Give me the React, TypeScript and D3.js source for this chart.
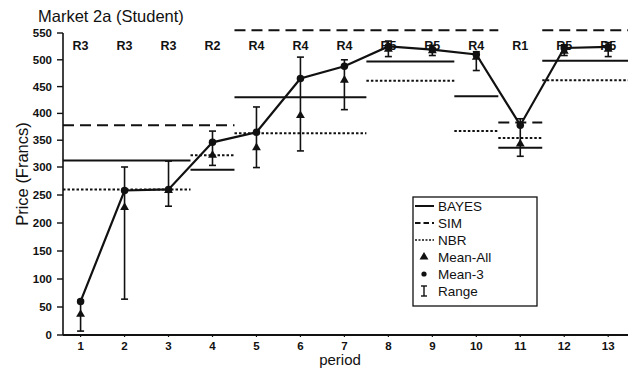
import React from 'react';
import * as d3 from 'd3';

// values
const periods = [1, 2, 3, 4, 5, 6, 7, 8, 9, 10, 11, 12, 13];
const regimes = ['R3', 'R3', 'R3', 'R2', 'R4', 'R4', 'R4', 'R5', 'R5', 'R4', 'R1', 'R5', 'R5'];
const mean3 = [60, 258, 260, 346, 365, 465, 488, 525, 519, 510, 378, 522, 524];
const meanAll = [37, 228, 258, 322, 336, 396, 462, 520, 517, 505, 343, 516, 520];
const rangeLow = [7, 64, 230, 303, 299, 330, 407, 506, 508, 480, 320, 508, 506];
const rangeHigh = [62, 300, 311, 367, 412, 505, 500, 535, 527, 515, 390, 528, 532];

// theoretical predictions, each held over a run of periods
const bayesSteps = [
  { from: 1, to: 3, value: 312 },
  { from: 4, to: 4, value: 295 },
  { from: 5, to: 7, value: 430 },
  { from: 8, to: 9, value: 497 },
  { from: 10, to: 10, value: 432 },
  { from: 11, to: 11, value: 336 },
  { from: 12, to: 13, value: 498 },
];
const simSteps = [
  { from: 1, to: 4, value: 378 },
  { from: 5, to: 10, value: 555 },
  { from: 11, to: 11, value: 383 },
  { from: 12, to: 13, value: 555 },
];
const nbrSteps = [
  { from: 1, to: 3, value: 260 },
  { from: 4, to: 4, value: 322 },
  { from: 5, to: 7, value: 363 },
  { from: 8, to: 9, value: 461 },
  { from: 10, to: 10, value: 367 },
  { from: 11, to: 11, value: 354 },
  { from: 12, to: 13, value: 462 },
];

const yTicks = [0, 50, 100, 150, 200, 250, 300, 350, 400, 450, 500, 550];
const legendItems = ['BAYES', 'SIM', 'NBR', 'Mean-All', 'Mean-3', 'Range'];

const FONT = '"Liberation Sans", Arial, Helvetica, sans-serif';
const INK = '#111';

const W = 640;
const H = 375;

export default function App() {
  const x = d3.scaleLinear().domain([0.6, 13.45]).range([63, 628]);
  // the printed axis is slightly uneven, so the scale follows it piecewise
  const y = d3.scaleLinear().domain([0, 300, 550]).range([335, 167, 33]);
  const [x0, x1] = x.domain();

  const meanLine = d3
    .line<number>()
    .x((_, i) => x(periods[i]))
    .y((d) => y(d))(mean3) as string;

  const tri = d3.symbol().type(d3.symbolTriangle).size(34)() as string;
  const dot = d3.symbol().type(d3.symbolCircle).size(44)() as string;

  const steps = (
    data: { from: number; to: number; value: number }[],
    dash: string | undefined,
    width: number,
    key: string
  ) =>
    data.map((s, i) => (
      <line
        key={key + i}
        x1={x(Math.max(s.from - 0.5, x0))}
        x2={x(Math.min(s.to + 0.5, x1))}
        y1={y(s.value)}
        y2={y(s.value)}
        stroke={INK}
        strokeWidth={width}
        strokeDasharray={dash}
      />
    ));

  const lx = 413;
  const ly = 197;

  return (
    <svg
      width={W}
      height={H}
      style={{ position: 'absolute', left: 0, top: 0, background: '#fff' }}
      fontFamily={FONT}
    >
      <text x={38} y={22} fontSize={16.5} fill={INK}>
        Market 2a (Student)
      </text>

      {/* y axis */}
      <line x1={x(x0)} x2={x(x0)} y1={y(0)} y2={y(550)} stroke={INK} strokeWidth={1.6} />
      {yTicks.map((t) => (
        <g key={'yt' + t}>
          <line x1={x(x0) - 6} x2={x(x0)} y1={y(t)} y2={y(t)} stroke={INK} strokeWidth={1.4} />
          <text
            x={x(x0) - 11}
            y={y(t)}
            dy="0.35em"
            textAnchor="end"
            fontSize={11.5}
            fontWeight="bold"
            fill={INK}
          >
            {t}
          </text>
        </g>
      ))}

      {/* x axis */}
      <line x1={x(x0)} x2={x(x1)} y1={y(0)} y2={y(0)} stroke={INK} strokeWidth={2.2} />
      {periods.map((p) => (
        <g key={'xt' + p}>
          <line x1={x(p)} x2={x(p)} y1={y(0)} y2={y(0) + 2} stroke={INK} strokeWidth={1.2} />
          <text x={x(p)} y={350} textAnchor="middle" fontSize={11.5} fontWeight="bold" fill={INK}>
            {p}
          </text>
        </g>
      ))}

      <text
        transform="translate(28, 174) rotate(-90)"
        textAnchor="middle"
        fontSize={16.5}
        fill={INK}
      >
        Price (Francs)
      </text>
      <text x={340} y={365} textAnchor="middle" fontSize={15} fill={INK}>
        period
      </text>

      {/* regime labels */}
      {regimes.map((r, i) => (
        <text
          key={'r' + i}
          x={x(periods[i])}
          y={50}
          textAnchor="middle"
          fontSize={12.5}
          fontWeight="bold"
          fill={INK}
        >
          {r}
        </text>
      ))}

      {/* predictions */}
      {steps(bayesSteps, undefined, 2, 'b')}
      {steps(simSteps, '11 6', 2, 's')}
      {steps(nbrSteps, '2.5 2', 2, 'n')}

      {/* ranges */}
      {periods.map((p, i) => (
        <g key={'rg' + p} stroke={INK} strokeWidth={1.6}>
          <line x1={x(p)} x2={x(p)} y1={y(rangeLow[i])} y2={y(rangeHigh[i])} />
          <line x1={x(p) - 3.5} x2={x(p) + 3.5} y1={y(rangeLow[i])} y2={y(rangeLow[i])} />
          <line x1={x(p) - 3.5} x2={x(p) + 3.5} y1={y(rangeHigh[i])} y2={y(rangeHigh[i])} />
        </g>
      ))}

      {/* mean of last three trades */}
      <path d={meanLine} fill="none" stroke={INK} strokeWidth={2.2} />
      {periods.map((p, i) => (
        <path key={'m3' + p} d={dot} transform={`translate(${x(p)},${y(mean3[i])})`} fill={INK} />
      ))}
      {periods.map((p, i) => (
        <path key={'ma' + p} d={tri} transform={`translate(${x(p)},${y(meanAll[i])})`} fill={INK} />
      ))}

      {/* legend */}
      <rect x={lx} y={ly} width={124} height={109} fill="#fff" stroke={INK} strokeWidth={1.3} />
      {legendItems.map((name, i) => {
        const cy = ly + 9 + i * 17;
        const mid = lx + 11;
        return (
          <g key={'lg' + name}>
            {i === 0 && <line x1={lx + 2} x2={lx + 21} y1={cy} y2={cy} stroke={INK} strokeWidth={2} />}
            {i === 1 && (
              <line x1={lx + 2} x2={lx + 21} y1={cy} y2={cy} stroke={INK} strokeWidth={2} strokeDasharray="5.5 3" />
            )}
            {i === 2 && (
              <line x1={lx + 2} x2={lx + 21} y1={cy} y2={cy} stroke={INK} strokeWidth={1.6} strokeDasharray="2 1.5" />
            )}
            {i === 3 && <path d={tri} transform={`translate(${mid},${cy})`} fill={INK} />}
            {i === 4 && <path d={dot} transform={`translate(${mid},${cy}) scale(0.7)`} fill={INK} />}
            {i === 5 && (
              <g stroke={INK} strokeWidth={1.4}>
                <line x1={mid} x2={mid} y1={cy - 5} y2={cy + 5} />
                <line x1={mid - 3} x2={mid + 3} y1={cy - 5} y2={cy - 5} />
                <line x1={mid - 3} x2={mid + 3} y1={cy + 5} y2={cy + 5} />
              </g>
            )}
            <text x={lx + 25} y={cy} dy="0.36em" fontSize={13.5} fill={INK}>
              {name}
            </text>
          </g>
        );
      })}
    </svg>
  );
}
